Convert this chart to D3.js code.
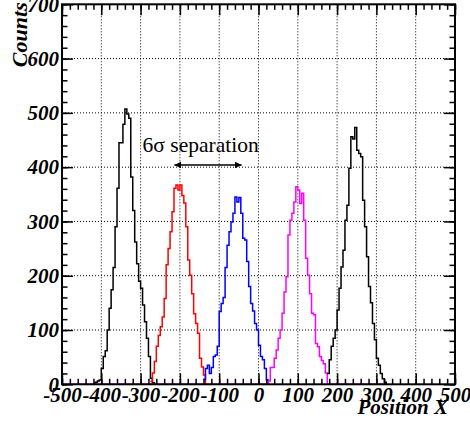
<!DOCTYPE html>
<html>
<head>
<meta charset="utf-8">
<script src="https://cdn.jsdelivr.net/npm/d3@7/dist/d3.min.js"></script>
<style>
  body { margin: 0; background: #fff; }
  text { font-family: "Liberation Serif", "Times New Roman", serif; }
</style>
</head>
<body>
<div id="chart"></div>
<script>
// histogram data, bin width 5, each series starts at its own left edge
var binWidth = 5;

var blackLeftStart = -420;
var blackLeft = [2, 4, 6, 8, 29, 51, 62, 100, 140, 174, 215, 290, 361, 445, 445, 479,
  507, 498, 490, 382, 320, 262, 222, 190, 177, 146, 115, 85, 51, 11, 3];

var redStart = -275;
var red = [5, 21, 42, 70, 90, 106, 124, 158, 220, 250, 281, 318, 361, 367, 358, 367,
  348, 334, 290, 229, 201, 167, 130, 112, 94, 48, 32, 17];

var blueStart = -140;
var blue = [9, 29, 35, 20, 31, 51, 54, 70, 134, 149, 160, 215, 256, 281, 299, 315,
  345, 336, 344, 315, 269, 266, 226, 180, 149, 135, 112, 100, 72, 51, 45, 29, 8];

var magentaStart = 25;
var magenta = [6, 31, 31, 48, 63, 85, 100, 131, 170, 198, 275, 302, 315, 336, 364, 358,
  333, 352, 302, 232, 201, 167, 131, 128, 75, 69, 51, 44, 38, 21];

var blackRightStart = 175;
var blackRight = [20, 45, 70, 85, 100, 137, 177, 216, 247, 302, 330, 398, 456, 452, 473, 431,
  425, 419, 339, 290, 235, 180, 150, 112, 82, 48, 35, 20, 10, 4];

var xTicks = [-500, -400, -300, -200, -100, 0, 100, 200, 300, 400, 500];
var yTicks = [0, 100, 200, 300, 400, 500, 600, 700];

// annotation
var arrowX = [-214, -43], arrowY = 404;
var noteX = -295, noteY = 427;

// set dimensions margins of graph
var W = 470, H = 424;
var margin = {top: 4.3, right: 15, bottom: 39.7, left: 62},
    width = W - margin.left - margin.right,
    height = H - margin.top - margin.bottom;

var svg = d3.select("#chart")
  .append("svg")
    .attr("width", W)
    .attr("height", H)
  .append("g")
    .attr("transform", "translate(" + margin.left + "," + margin.top + ")");

var x = d3.scaleLinear().domain([-500, 500]).range([0, width]);
var y = d3.scaleLinear().domain([0, 700]).range([height, 0]);

// grid
svg.append("g").selectAll("line")
  .data(xTicks.slice(1, -1))
  .enter().append("line")
    .attr("x1", function(d) { return x(d) }).attr("x2", function(d) { return x(d) })
    .attr("y1", 0).attr("y2", height)
    .attr("stroke", "#000").attr("stroke-width", 1)
    .attr("stroke-dasharray", "1,2");
svg.append("g").selectAll("line")
  .data(yTicks.slice(1, -1))
  .enter().append("line")
    .attr("y1", function(d) { return y(d) }).attr("y2", function(d) { return y(d) })
    .attr("x1", 0).attr("x2", width)
    .attr("stroke", "#000").attr("stroke-width", 1)
    .attr("stroke-dasharray", "1,2");

// histogram outline as a step line
function histPoints(start, vals, lo, hi) {
  var pts = [];
  if (lo !== undefined) pts.push([lo, 0]);
  vals.forEach(function(v, i) { pts.push([start + i * binWidth, v]) });
  pts.push([start + vals.length * binWidth, 0]);
  if (hi !== undefined) pts.push([hi, 0]);
  return pts;
}
var step = d3.line()
  .x(function(d) { return x(d[0]) })
  .y(function(d) { return y(d[1]) })
  .curve(d3.curveStepAfter);

var series = [
  {pts: histPoints(blackLeftStart, blackLeft), color: "#000"},
  {pts: histPoints(redStart, red), color: "#ff0000"},
  {pts: histPoints(blueStart, blue), color: "#0000ff"},
  {pts: histPoints(magentaStart, magenta, -500, 322), color: "#ff00ff"},
  {pts: histPoints(blackRightStart, blackRight), color: "#000"}
];
series.forEach(function(s) {
  svg.append("path")
    .datum(s.pts)
    .attr("fill", "none")
    .attr("stroke", s.color)
    .attr("stroke-width", 1.5)
    .attr("d", step);
});

// axes, ROOT style ticks on all four sides pointing inward
var tickFont = function(g) {
  g.select(".domain").remove();
  g.selectAll(".tick line").attr("stroke", "#000").attr("stroke-width", 1.5);
  g.selectAll("text")
    .attr("font-size", 21)
    .attr("font-weight", "bold")
    .attr("font-style", "italic")
    .attr("fill", "#000");
};
var plain = function(d) { return String(d) };
var minorX = d3.range(-500, 501, 20), minorY = d3.range(0, 701, 20);

svg.append("g").attr("transform", "translate(0," + height + ")")
  .call(d3.axisBottom(x).tickValues(minorX).tickSize(-5.5).tickFormat(""))
  .call(tickFont);
svg.append("g").attr("transform", "translate(0," + height + ")")
  .call(d3.axisBottom(x).tickValues(xTicks).tickSize(-11).tickPadding(3).tickFormat(plain))
  .call(tickFont);
svg.append("g")
  .call(d3.axisTop(x).tickValues(minorX).tickSize(-5.5).tickFormat(""))
  .call(tickFont);
svg.append("g")
  .call(d3.axisTop(x).tickValues(xTicks).tickSize(-11).tickFormat(""))
  .call(tickFont);

svg.append("g")
  .call(d3.axisLeft(y).tickValues(minorY).tickSize(-5.5).tickFormat(""))
  .call(tickFont);
svg.append("g")
  .call(d3.axisLeft(y).tickValues(yTicks).tickSize(-11).tickPadding(3).tickFormat(plain))
  .call(tickFont);
svg.append("g").attr("transform", "translate(" + width + ",0)")
  .call(d3.axisRight(y).tickValues(minorY).tickSize(-5.5).tickFormat(""))
  .call(tickFont);
svg.append("g").attr("transform", "translate(" + width + ",0)")
  .call(d3.axisRight(y).tickValues(yTicks).tickSize(-11).tickFormat(""))
  .call(tickFont);

// frame
svg.append("rect")
  .attr("width", width).attr("height", height)
  .attr("fill", "none").attr("stroke", "#000").attr("stroke-width", 2);

// axis titles
svg.append("text")
  .attr("transform", "translate(" + (27 - margin.left) + "," + (-2) + ") rotate(-90)")
  .attr("text-anchor", "end")
  .attr("font-size", 22).attr("font-weight", "bold").attr("font-style", "italic")
  .text("Counts");
svg.append("text")
  .attr("x", 448 - margin.left).attr("y", 414 - margin.top)
  .attr("text-anchor", "end")
  .attr("font-size", 21).attr("font-weight", "bold").attr("font-style", "italic")
  .text("Position X");

// separation arrow and note
var defs = svg.append("defs");
defs.append("marker").attr("id", "ah").attr("viewBox", "0 0 10 10")
  .attr("refX", 10).attr("refY", 5).attr("markerWidth", 7).attr("markerHeight", 7)
  .attr("markerUnits", "userSpaceOnUse").attr("orient", "auto-start-reverse")
  .append("path").attr("d", "M0,0L10,5L0,10z").attr("fill", "#000");
svg.append("line")
  .attr("x1", x(arrowX[0])).attr("x2", x(arrowX[1]))
  .attr("y1", y(arrowY)).attr("y2", y(arrowY))
  .attr("stroke", "#000").attr("stroke-width", 1.5)
  .attr("marker-start", "url(#ah)").attr("marker-end", "url(#ah)");
svg.append("text")
  .attr("x", x(noteX)).attr("y", y(noteY))
  .attr("font-size", 21.5)
  .text("6σ separation");
</script>
</body>
</html>
